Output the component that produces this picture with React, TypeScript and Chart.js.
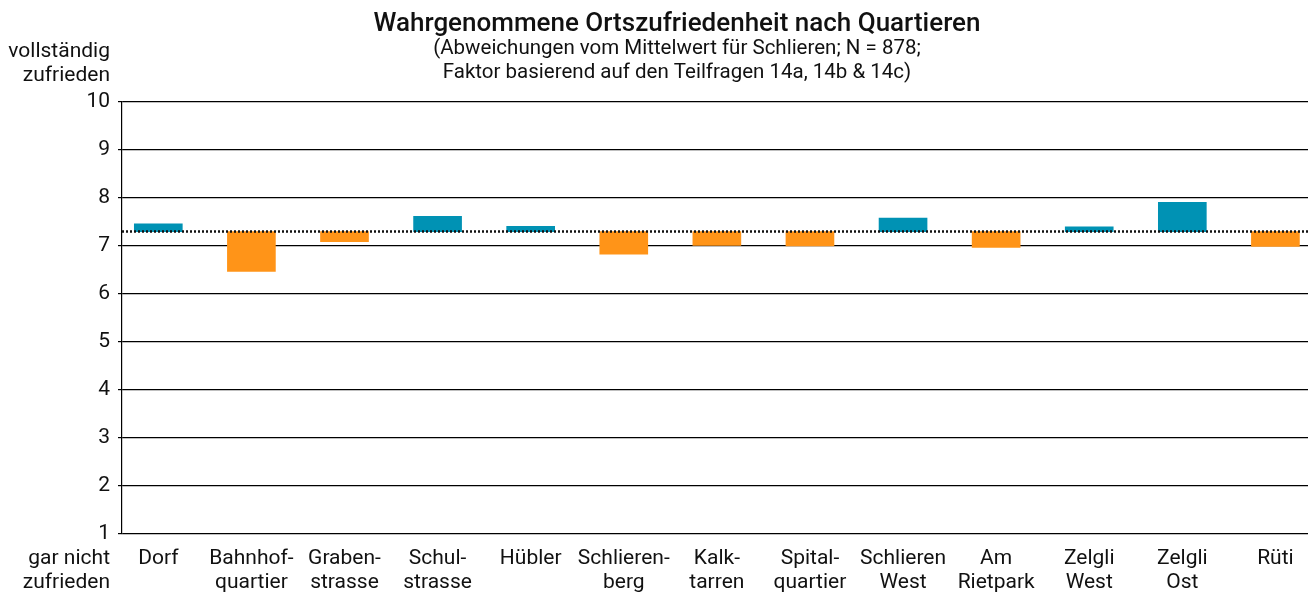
import React, { useEffect, useRef } from "react";
import { Chart, registerables } from "chart.js";

Chart.register(...registerables);

const TITLE = "Wahrgenommene Ortszufriedenheit nach Quartieren";
const SUBTITLE = [
  "(Abweichungen vom Mittelwert für Schlieren; N = 878;",
  "Faktor basierend auf den Teilfragen 14a, 14b & 14c)",
];
const Y_TOP_LABEL = ["vollständig", "zufrieden"];
const Y_BOTTOM_LABEL = ["gar nicht", "zufrieden"];

const categories: string[][] = [
  ["Dorf"],
  ["Bahnhof-", "quartier"],
  ["Graben-", "strasse"],
  ["Schul-", "strasse"],
  ["Hübler"],
  ["Schlieren-", "berg"],
  ["Kalk-", "tarren"],
  ["Spital-", "quartier"],
  ["Schlieren", "West"],
  ["Am", "Rietpark"],
  ["Zelgli", "West"],
  ["Zelgli", "Ost"],
  ["Rüti"],
];

const MEAN = 7.3;
const values = [7.46, 6.47, 7.09, 7.62, 7.41, 6.83, 7.01, 7.0, 7.58, 6.97, 7.4, 7.91, 6.99];

const Y_MIN = 1;
const Y_MAX = 10;

const COLOR_UP = "#0092B4";
const COLOR_DOWN = "#FF9418";
const FONT = "Roboto, 'DejaVu Sans', sans-serif";

export default function App() {
  const ref = useRef<HTMLCanvasElement | null>(null);

  useEffect(() => {
    if (!ref.current) return;

    const overlay = {
      id: "overlay",
      afterDatasetsDraw(chart: any) {
        const { ctx, chartArea, scales } = chart;
        const y = scales.y.getPixelForValue(MEAN);
        ctx.save();
        ctx.strokeStyle = "#111";
        ctx.lineWidth = 2.5;
        ctx.setLineDash([2, 2]);
        ctx.beginPath();
        ctx.moveTo(chartArea.left, y);
        ctx.lineTo(chartArea.right, y);
        ctx.stroke();
        ctx.restore();
      },
      afterDraw(chart: any) {
        const { ctx } = chart;
        ctx.save();
        ctx.fillStyle = "#111";
        ctx.textBaseline = "middle";
        ctx.textAlign = "center";
        ctx.font = `500 26px ${FONT}`;
        ctx.fillText(TITLE, 677, 24);
        ctx.font = `20.5px ${FONT}`;
        SUBTITLE.forEach((s, i) => ctx.fillText(s, 677, 49 + i * 24));
        ctx.textAlign = "right";
        ctx.font = `21px ${FONT}`;
        Y_TOP_LABEL.forEach((s, i) => ctx.fillText(s, 110, 52 + i * 24));
        Y_BOTTOM_LABEL.forEach((s, i) => ctx.fillText(s, 110, 559 + i * 24));
        ctx.restore();
      },
    };

    const chart = new Chart(ref.current, {
      type: "bar",
      data: {
        datasets: [
          {
            data: values.map((v, i) => ({ x: i, y: [MEAN, v] })) as any,
            backgroundColor: values.map((v) => (v >= MEAN ? COLOR_UP : COLOR_DOWN)),
            borderWidth: 0,
            barThickness: 48,
          },
        ],
      },
      options: {
        responsive: false,
        animation: false,
        layout: { padding: { top: 102, right: 6, left: 0, bottom: 0 } },
        plugins: { legend: { display: false }, tooltip: { enabled: false } },
        scales: {
          x: {
            type: "linear",
            offset: false,
            min: -0.39,
            max: 12.35,
            grid: { display: false, drawTicks: false, offset: false },
            border: { display: false },
            afterBuildTicks: (scale: any) => {
              scale.ticks = categories.map((_, i) => ({ value: i }));
            },
            afterFit: (scale: any) => {
              scale.height = 62;
            },
            ticks: {
              autoSkip: false,
              maxRotation: 0,
              padding: 13,
              color: "#111",
              font: { family: FONT, size: 21, lineHeight: "24px" },
              callback: (v: any) => categories[v as number] ?? "",
            },
          },
          y: {
            min: Y_MIN,
            max: Y_MAX,
            afterFit: (scale: any) => {
              scale.width = 122;
            },
            grid: { color: "#000", lineWidth: 1.2, tickLength: 4, drawTicks: true },
            border: { color: "#000", width: 1.2 },
            ticks: {
              stepSize: 1,
              padding: 8,
              color: "#111",
              font: { family: FONT, size: 21 },
            },
          },
        },
      } as any,
      plugins: [overlay],
    });

    return () => chart.destroy();
  }, []);

  return (
    <div style={{ position: "fixed", left: 0, top: 0, width: 1314, height: 596, background: "#fff" }}>
      <canvas ref={ref} width={1314} height={596} style={{ display: "block" }} />
    </div>
  );
}
